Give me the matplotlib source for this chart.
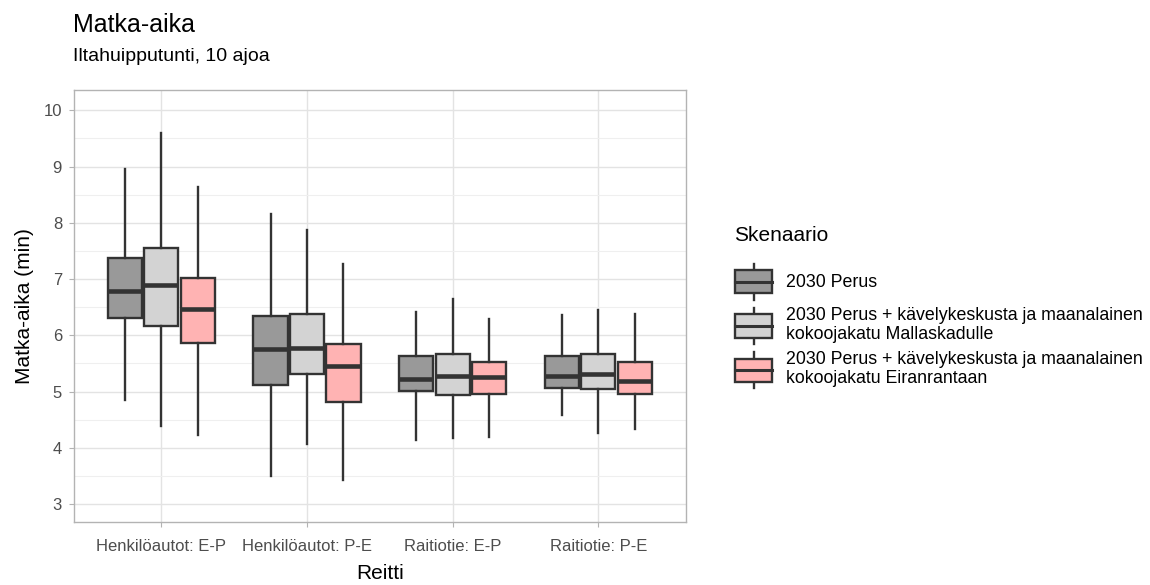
import numpy as np
import matplotlib.pyplot as plt
from matplotlib.legend_handler import HandlerBase
from matplotlib.patches import Rectangle
from matplotlib.lines import Line2D
from matplotlib.ticker import MultipleLocator

plt.rcParams['font.family'] = ['Liberation Sans', 'DejaVu Sans']

routes = ["Henkilöautot: E-P", "Henkilöautot: P-E", "Raitiotie: E-P", "Raitiotie: P-E"]
scenarios = ["2030 Perus",
             "2030 Perus + kävelykeskusta ja maanalainen\nkokoojakatu Mallaskadulle",
             "2030 Perus + kävelykeskusta ja maanalainen\nkokoojakatu Eiranrantaan"]
colors = ["#999999", "#d3d3d3", "#ffb3b3"]

# whisker low, q1, median, q3, whisker high per route
perus_low = [4.85, 3.50, 4.14, 4.59]
perus_q1 = [6.30, 5.12, 5.01, 5.07]
perus_med = [6.78, 5.75, 5.23, 5.27]
perus_q3 = [7.37, 6.34, 5.63, 5.64]
perus_high = [8.95, 8.16, 6.42, 6.36]

malla_low = [4.38, 4.06, 4.17, 4.26]
malla_q1 = [6.16, 5.32, 4.94, 5.04]
malla_med = [6.89, 5.78, 5.28, 5.32]
malla_q3 = [7.55, 6.37, 5.67, 5.66]
malla_high = [9.59, 7.87, 6.64, 6.45]

eira_low = [4.22, 3.42, 4.19, 4.33]
eira_q1 = [5.87, 4.81, 4.95, 4.96]
eira_med = [6.47, 5.46, 5.26, 5.18]
eira_q3 = [7.01, 5.84, 5.52, 5.53]
eira_high = [8.63, 7.27, 6.29, 6.38]

series = [
    (perus_low, perus_q1, perus_med, perus_q3, perus_high),
    (malla_low, malla_q1, malla_med, malla_q3, malla_high),
    (eira_low, eira_q1, eira_med, eira_q3, eira_high),
]

edge = "#333333"
fig = plt.figure(figsize=(11.5, 5.85), dpi=100)
ax = fig.add_axes([0.0643, 0.1077, 0.532, 0.7383])

x = np.arange(1, len(routes) + 1)
offsets = [-0.25, 0.0, 0.25]
for (lo, q1, med, q3, hi), off, col in zip(series, offsets, colors):
    stats = [dict(whislo=lo[i], q1=q1[i], med=med[i], q3=q3[i], whishi=hi[i], fliers=[])
             for i in range(len(routes))]
    ax.bxp(stats, positions=x + off, widths=0.235, patch_artist=True, showcaps=False,
           boxprops=dict(facecolor=col, edgecolor=edge, linewidth=1.7),
           whiskerprops=dict(color=edge, linewidth=1.7),
           medianprops=dict(color=edge, linewidth=3.3, solid_capstyle='butt'),
           manage_ticks=False, zorder=3)

ax.set_xlim(0.4, 4.6)
ax.set_ylim(2.68, 10.36)
ax.set_xticks(x)
ax.set_xticklabels(routes)
ax.yaxis.set_major_locator(MultipleLocator(1))
ax.yaxis.set_minor_locator(MultipleLocator(0.5))
ax.grid(True, which='major', color='#e3e3e3', linewidth=1.0, zorder=0)
ax.grid(True, which='minor', axis='y', color='#efefef', linewidth=0.8, zorder=0)
ax.set_axisbelow(True)
for s in ax.spines.values():
    s.set_color('#b3b3b3')
    s.set_linewidth(1.0)
ax.tick_params(which='major', color='#b3b3b3', length=3.6, labelcolor='#4d4d4d', labelsize=12)
ax.tick_params(axis='x', pad=9)
ax.tick_params(axis='y', pad=5)
ax.tick_params(which='minor', length=0)
ax.set_xlabel("Reitti", fontsize=15)
ax.set_ylabel("Matka-aika (min)", fontsize=15)
ax.xaxis.set_label_coords(0.5, -0.097)
ax.yaxis.set_label_coords(-0.066, 0.5)

fig.text(0.0635, 0.946, "Matka-aika", fontsize=18, va='baseline')
fig.text(0.0635, 0.896, "Iltahuipputunti, 10 ajoa", fontsize=14, va='baseline')
fig.text(0.638, 1 - 241 / 585, "Skenaario", fontsize=15, va='baseline')


class BoxKeyHandler(HandlerBase):
    def __init__(self, face):
        super().__init__()
        self.face = face

    def create_artists(self, legend, orig_handle, xdescent, ydescent, width, height, fontsize, trans):
        bh = height * 0.68
        y0 = (height - bh) / 2 - ydescent
        x0 = -xdescent
        rect = Rectangle((x0, y0), width, bh, facecolor=self.face, edgecolor=edge,
                         linewidth=1.7, transform=trans)
        mid = y0 + bh / 2
        med = Line2D([x0, x0 + width], [mid, mid], color=edge, linewidth=2.2, transform=trans)
        cx = x0 + width / 2
        top = Line2D([cx, cx], [y0 + bh, y0 + bh + 0.19 * height], color=edge, linewidth=1.7, transform=trans)
        bot = Line2D([cx, cx], [y0, y0 - 0.19 * height], color=edge, linewidth=1.7, transform=trans)
        return [top, bot, rect, med]


handles = [Rectangle((0, 0), 1, 1, facecolor=c) for c in colors]
leg = fig.legend(handles, scenarios, loc='center left',
                 bbox_to_anchor=(0.639, 1 - 326 / 585), frameon=False, fontsize=12.8,
                 handlelength=2.1, handleheight=2.56,
                 handletextpad=0.75, labelspacing=0.45, borderpad=0, borderaxespad=0,
                 handler_map={h: BoxKeyHandler(c) for h, c in zip(handles, colors)})
for t in leg.get_texts():
    t.set_linespacing(1.15)

fig.savefig("out.png", dpi=100, facecolor='white')
